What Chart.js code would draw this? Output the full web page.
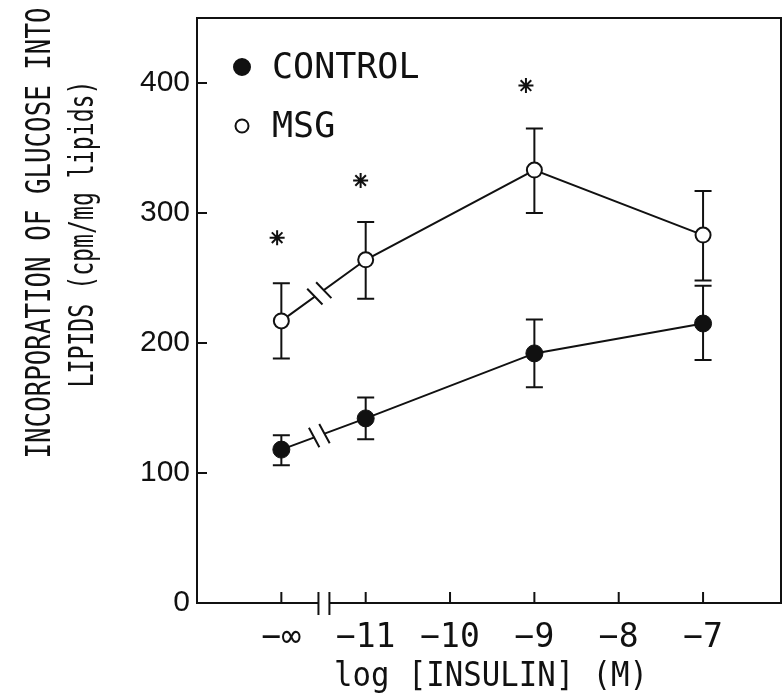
<!DOCTYPE html>
<html>
  <head>
    <title>Glucose incorporation into lipids</title>
    <script src="https://cdn.jsdelivr.net/npm/chart.js@4.4.1/dist/chart.umd.min.js"></script>
    <style>
      body { margin: 0; background: #fff; }
    </style>
  </head>

  <body>
    <canvas id="canvas" width="784" height="698"></canvas>
    <script>
      // x = log [insulin]; -12 stands for the "-oo" (no insulin) point
      const doses = [-12, -11, -9, -7];
      const xTicks = [-12, -11, -10, -9, -8, -7];
      const yTicks = [0, 100, 200, 300, 400];

      const controlMean = [118, 142, 192, 215];
      const controlUpper = [129, 158, 218, 244];
      const controlLower = [106, 126, 166, 187];

      const msgMean = [217, 264, 333, 283];
      const msgUpper = [246, 293, 365, 317];
      const msgLower = [188, 234, 300, 248];

      // significance asterisks
      const starX = [-12.05, -11.06, -9.1];
      const starY = [281, 325, 398];

      const INK = '#111';
      const MONO = '"DejaVu Sans Mono", monospace';

      const toPoints = (xs, ys) => xs.map((x, i) => ({ x: x, y: ys[i] }));

      // draw text squeezed/stretched to a given width
      function fitText(ctx, text, x, y, width, angle) {
        ctx.save();
        ctx.translate(x, y);
        if (angle) ctx.rotate(angle);
        const w = ctx.measureText(text).width;
        ctx.scale(width / w, 1);
        ctx.textAlign = 'center';
        ctx.textBaseline = 'alphabetic';
        ctx.fillText(text, 0, 0);
        ctx.restore();
      }

      // no extra room for overflowing tick labels
      function noPadding(scale) {
        scale.paddingLeft = 0;
        scale.paddingRight = 0;
        scale.paddingTop = 0;
        scale.paddingBottom = 0;
      }

      const decor = {
        id: 'decor',
        beforeDatasetsDraw(chart) {
          const { ctx, chartArea: a, scales } = chart;
          const xs = scales.x, ys = scales.y;
          ctx.save();
          ctx.strokeStyle = INK;
          ctx.lineWidth = 2;

          // frame with a break in the bottom axis
          const b1 = xs.getPixelForValue(-11.56), b2 = xs.getPixelForValue(-11.43);
          ctx.beginPath();
          ctx.moveTo(b1, a.bottom);
          ctx.lineTo(a.left, a.bottom);
          ctx.lineTo(a.left, a.top);
          ctx.lineTo(a.right, a.top);
          ctx.lineTo(a.right, a.bottom);
          ctx.lineTo(b2, a.bottom);
          ctx.moveTo(b1, a.bottom - 11);
          ctx.lineTo(b1, a.bottom + 12);
          ctx.moveTo(b2, a.bottom - 11);
          ctx.lineTo(b2, a.bottom + 12);

          // inward tick marks
          xTicks.forEach((v) => {
            const px = xs.getPixelForValue(v);
            ctx.moveTo(px, a.bottom);
            ctx.lineTo(px, a.bottom - 11);
          });
          yTicks.forEach((v) => {
            const py = ys.getPixelForValue(v);
            ctx.moveTo(a.left, py);
            ctx.lineTo(a.left + 10, py);
          });
          ctx.stroke();

          // error bars
          const bars = [
            [controlUpper, controlLower],
            [msgUpper, msgLower],
          ];
          ctx.beginPath();
          bars.forEach(([up, lo]) => {
            doses.forEach((d, i) => {
              const px = xs.getPixelForValue(d);
              const pu = ys.getPixelForValue(up[i]);
              const pl = ys.getPixelForValue(lo[i]);
              ctx.moveTo(px, pu);
              ctx.lineTo(px, pl);
              ctx.moveTo(px - 8.5, pu);
              ctx.lineTo(px + 8.5, pu);
              ctx.moveTo(px - 8.5, pl);
              ctx.lineTo(px + 8.5, pl);
            });
          });
          ctx.stroke();
          ctx.restore();
        },
        afterDatasetsDraw(chart) {
          const { ctx, scales } = chart;
          const xs = scales.x, ys = scales.y;
          ctx.save();

          // "//" breaks on the lines between -oo and -11
          [controlMean, msgMean].forEach((m) => {
            const x0 = xs.getPixelForValue(doses[0]), y0 = ys.getPixelForValue(m[0]);
            const x1 = xs.getPixelForValue(doses[1]), y1 = ys.getPixelForValue(m[1]);
            const len = Math.hypot(x1 - x0, y1 - y0);
            const ux = (x1 - x0) / len, uy = (y1 - y0) / len;
            const xm = xs.getPixelForValue(-11.55);
            const t = (xm - x0) / (x1 - x0);
            const cx = x0 + t * (x1 - x0), cy = y0 + t * (y1 - y0);
            ctx.strokeStyle = '#fff';
            ctx.lineWidth = 5;
            ctx.beginPath();
            ctx.moveTo(cx - ux * 5, cy - uy * 5);
            ctx.lineTo(cx + ux * 5, cy + uy * 5);
            ctx.stroke();
            // perpendicular, tilted a little towards vertical
            let ang = Math.atan2(uy, ux) + Math.PI / 2 - 0.14;
            const px = Math.cos(ang), py = Math.sin(ang);
            ctx.strokeStyle = INK;
            ctx.lineWidth = 2;
            ctx.beginPath();
            [-5.5, 5.5].forEach((o) => {
              const mx = cx + ux * o, my = cy + uy * o;
              ctx.moveTo(mx - px * 11, my - py * 11);
              ctx.lineTo(mx + px * 11, my + py * 11);
            });
            ctx.stroke();
          });

          // legend
          const items = chart.data.datasets.slice(0, 2);
          const rows = [67, 126];
          ctx.font = '35px ' + MONO;
          items.forEach((ds, i) => {
            const y = rows[i];
            ctx.beginPath();
            ctx.arc(242, y, i === 0 ? 8 : 6.5, 0, Math.PI * 2);
            ctx.fillStyle = ds.pointBackgroundColor;
            ctx.fill();
            ctx.lineWidth = 2;
            ctx.strokeStyle = INK;
            ctx.stroke();
            ctx.fillStyle = INK;
            ctx.textAlign = 'left';
            ctx.textBaseline = 'alphabetic';
            ctx.fillText(ds.label, 272, y + 11);
          });
          ctx.restore();
        },
        afterDraw(chart) {
          const { ctx } = chart;
          ctx.save();
          ctx.fillStyle = INK;
          ctx.font = '34px ' + MONO;
          fitText(ctx, 'INCORPORATION OF GLUCOSE INTO', 50, 233, 451, -Math.PI / 2);
          fitText(ctx, 'LIPIDS (cpm/mg lipids)', 93, 234, 307, -Math.PI / 2);
          fitText(ctx, 'log [INSULIN] (M)', 491, 686, 314, 0);
          ctx.restore();
        },
      };

      const ctx = document.getElementById('canvas').getContext('2d');
      const chart = new Chart(ctx, {
        type: 'line',
        data: {
          datasets: [
            {
              label: 'CONTROL',
              data: toPoints(doses, controlMean),
              borderColor: INK,
              borderWidth: 2,
              pointRadius: 8.5,
              pointBackgroundColor: INK,
              pointBorderColor: INK,
              pointBorderWidth: 1,
            },
            {
              label: 'MSG',
              data: toPoints(doses, msgMean),
              borderColor: INK,
              borderWidth: 2,
              pointRadius: 7.5,
              pointBackgroundColor: '#fff',
              pointBorderColor: INK,
              pointBorderWidth: 2,
            },
            {
              type: 'scatter',
              label: 'p < 0.05',
              data: toPoints(starX, starY),
              showLine: false,
              pointStyle: 'star',
              pointRadius: 7.5,
              pointBorderColor: INK,
              pointBorderWidth: 2,
            },
          ],
        },
        options: {
          responsive: false,
          animation: false,
          layout: { autoPadding: false, padding: { left: 0, right: 3, top: 18, bottom: 0 } },
          plugins: {
            legend: { display: false },
            tooltip: { enabled: false },
          },
          scales: {
            x: {
              type: 'linear',
              min: -13,
              max: -6.076,
              grid: { display: false, drawTicks: false },
              border: { display: false },
              afterBuildTicks: (scale) => {
                scale.ticks = xTicks.map((v) => ({ value: v }));
              },
              afterFit: (scale) => {
                scale.height = 95;
                noPadding(scale);
              },
              ticks: {
                padding: 16,
                color: INK,
                maxRotation: 0,
                autoSkip: false,
                font: { family: MONO, size: 33 },
                callback: (v) => (v === -12 ? '\u2212\u221e' : '\u2212' + Math.abs(v)),
              },
            },
            y: {
              min: 0,
              max: 450,
              grid: { display: false, drawTicks: false },
              border: { display: false },
              afterBuildTicks: (scale) => {
                scale.ticks = yTicks.map((v) => ({ value: v }));
              },
              afterFit: (scale) => {
                scale.width = 197;
                noPadding(scale);
              },
              ticks: {
                padding: 7,
                color: INK,
                font: { family: '"Liberation Sans", Arial, sans-serif', size: 30 },
              },
            },
          },
        },
        plugins: [decor],
      });
    </script>
  </body>
</html>
